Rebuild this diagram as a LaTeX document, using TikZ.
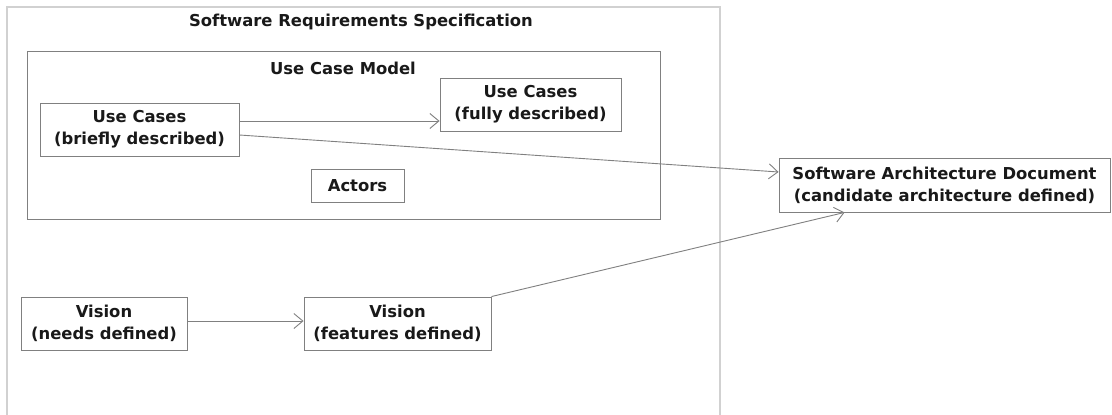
\documentclass[tikz,border=0pt]{standalone}
\usepackage{fontspec}
\setmainfont{DejaVu Sans}
\usetikzlibrary{arrows.meta,calc}
\tikzset{
  elem/.style={draw=black!50, line width=0.9pt, fill=white, inner sep=0pt, align=center,
    font=\bfseries\fontsize{16.4}{22}\selectfont, text=black!90},
  flow/.style={draw=black!50, line width=0.9pt, -{Straight Barb[length=9pt,width=15pt,line width=0.9pt]}},
  ttl/.style={font=\bfseries\fontsize{16.4}{22}\selectfont, text=black!90, inner sep=0pt},
}
\begin{document}
\begin{tikzpicture}[x=1pt,y=-1pt]
\clip (0,0) rectangle (1112,415);
\fill[white] (0,0) rectangle (1112,415);
% SRS frame
\draw[draw=black!18, line width=1.2pt] (7,7) rectangle (720,440);
\node[ttl] (srs) at (361,22) {Software Requirements Specification};
% Use case model frame
\draw[draw=black!50, line width=0.9pt] (27,51) rectangle (660,219);
\node[ttl] (ucm) at (343,68) {Use Case Model};
% elements
\node[elem, minimum width=199pt, minimum height=53pt] (ucb) at (139.5,129.5) {Use Cases\\(briefly described)};
\node[elem, minimum width=181pt, minimum height=53pt] (ucf) at (530.5,104.5) {Use Cases\\(fully described)};
\node[elem, minimum width=93pt, minimum height=33pt] (act) at (357.5,185.5) {Actors};
\node[elem, minimum width=331pt, minimum height=54pt] (sad) at (944.5,185) {Software Architecture Document\\(candidate architecture defined)};
\node[elem, minimum width=166pt, minimum height=53pt] (vn) at (104,323.5) {Vision\\(needs defined)};
\node[elem, minimum width=187pt, minimum height=53pt] (vf) at (397.5,323.5) {Vision\\(features defined)};
% connectors
\draw[flow] ($(ucb.east)+(0,-8.5)$) -- ($(ucf.west)+(0,16.5)$);
\draw[flow] ($(ucb.east)+(0,5.5)$) -- ($(sad.west)+(0,-13)$);
\draw[flow] ($(vn.east)+(0,-2.5)$) -- ($(vf.west)+(0,-2.5)$);
\draw[flow] (vf.north east) -- ($(sad.south west)+(66,0)$);
\end{tikzpicture}
\end{document}
